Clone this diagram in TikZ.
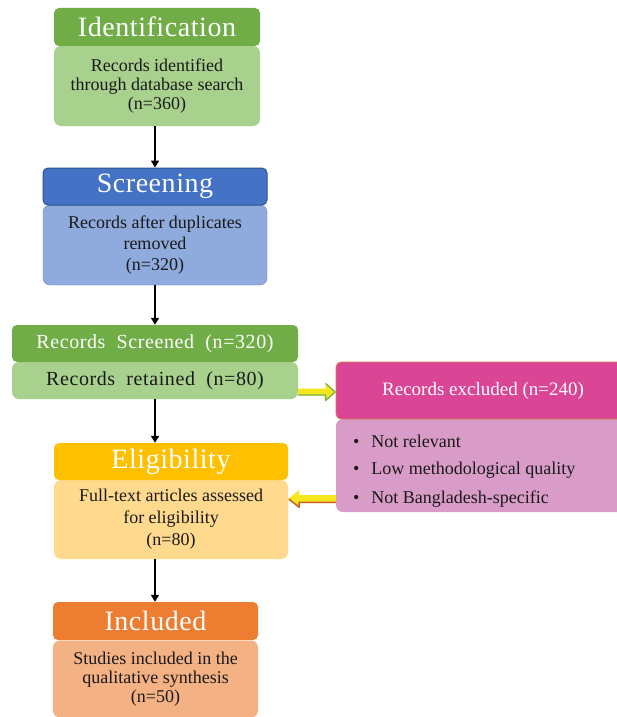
\documentclass[tikz,border=0pt]{standalone}
\usepackage{fontspec}
\setmainfont{Liberation Serif}
\newfontfamily\hdrfont[LetterSpace=2]{Liberation Serif}
\newfontfamily\wideserif[LetterSpace=3,WordSpace=2]{Liberation Serif}
\usetikzlibrary{calc,arrows.meta}
\definecolor{gH}{HTML}{70AD47}
\definecolor{gB}{HTML}{A9D18E}
\definecolor{bH}{HTML}{4472C4}
\definecolor{bD}{HTML}{2F528F}
\definecolor{bB}{HTML}{8FAADC}
\definecolor{yH}{HTML}{FFC000}
\definecolor{yB}{HTML}{FFD98E}
\definecolor{oH}{HTML}{ED7D31}
\definecolor{oB}{HTML}{F4B183}
\definecolor{pH}{HTML}{DB4595}
\definecolor{pB}{HTML}{D99CC9}
\definecolor{pD}{HTML}{D0804A}
\definecolor{txt}{HTML}{1A1A1A}
\definecolor{arY}{HTML}{F5E61E}
\definecolor{arG}{HTML}{7DB343}
\definecolor{arO}{HTML}{C8602A}
\tikzset{
  hdr/.style={rounded corners=5pt, inner sep=0pt, text=white, font=\hdrfont\fontsize{28}{30}\selectfont},
  hdrsmall/.style={rounded corners=5pt, inner sep=0pt, text=white, font=\wideserif\fontsize{20}{22}\selectfont},
  bodybox/.style={rounded corners=7pt, inner sep=0pt, align=center, text=txt, font=\fontsize{18}{20}\selectfont},
  arr/.style={draw=black, line width=1.6pt, -{Triangle[width=8pt,length=7pt]}},
}
\begin{document}
\begin{tikzpicture}[x=1pt,y=-1pt]
\useasboundingbox (0,0) rectangle (617,717);
\clip (0,0) rectangle (617,717);
\fill[white] (0,0) rectangle (617,717);
% Identification
\node[bodybox, fill=gB, minimum width=206pt, minimum height=80pt, font=\fontsize{18}{19}\selectfont] (idb) at (157,86) {Records identified\\through database search\\(n=360)};
\node[hdr, fill=gH, minimum width=206pt, minimum height=38pt] (idh) at (157,27) {Identification};
% Screening
\node[bodybox, fill=bB, draw=bB!80!black, line width=0.4pt, minimum width=224pt, minimum height=80pt, font=\fontsize{18}{21}\selectfont] (scb) at (155,245) {Records after duplicates\\removed\\(n=320)};
\node[hdr, fill=bH, draw=bD, line width=1pt, minimum width=224pt, minimum height=37pt] (sch) at (155,186.5) {Screening};
% Records screened
\node[bodybox, fill=gB, minimum width=286pt, minimum height=37pt, font=\wideserif\fontsize{20}{22}\selectfont] (rsb) at (155,380.5) {Records retained (n=80)};
\node[hdrsmall, fill=gH, minimum width=286pt, minimum height=37pt] (rsh) at (155,343.5) {Records Screened (n=320)};
% Eligibility
\node[bodybox, fill=yB, minimum width=234pt, minimum height=79pt, font=\fontsize{18}{22}\selectfont] (elb) at (171,519.5) {Full-text articles assessed\\for eligibility\\(n=80)};
\node[hdr, fill=yH, minimum width=234pt, minimum height=37pt] (elh) at (171,461.5) {Eligibility};
% Included
\node[bodybox, fill=oB, minimum width=205pt, minimum height=77pt, font=\fontsize{18}{19}\selectfont] (inb) at (155.5,679) {Studies included in the\\qualitative synthesis\\(n=50)};
\node[hdr, fill=oH, minimum width=205pt, minimum height=38pt] (inh) at (155.5,621) {Included};
% Excluded
\node[bodybox, fill=pB, minimum width=294pt, minimum height=93pt] (exb) at (483,465.5) {};
\node[hdrsmall, fill=pH, draw=pD, line width=0.8pt, minimum width=294pt, minimum height=57pt, font=\fontsize{19}{21}\selectfont] (exh) at (483,390.5) {Records excluded (n=240)};
\node[anchor=west, inner sep=0pt, text=txt, font=\fontsize{18}{20}\selectfont] (ex1) at (353,441) {\textbullet\hspace{12pt}Not relevant};
\node[anchor=west, inner sep=0pt, text=txt, font=\fontsize{18}{20}\selectfont] (ex2) at (353,470) {\textbullet\hspace{12pt}Low methodological quality};
\node[anchor=west, inner sep=0pt, text=txt, font=\fontsize{18}{20}\selectfont] (ex3) at (353,499) {\textbullet\hspace{12pt}Not Bangladesh-specific};
% vertical arrows
\coordinate (xa) at (155,0);
\draw[arr] (idb.south -| xa) -- (sch.north -| xa);
\draw[arr] (scb.south -| xa) -- (rsh.north -| xa);
\draw[arr] (rsb.south -| xa) -- (elh.north -| xa);
\draw[arr] (elb.south -| xa) -- (inh.north -| xa);
% side arrows
\coordinate (ra) at (rsb.east |- 0,392);
\coordinate (rb) at (exh.west |- 0,392);
\fill[arY]
  ($(ra)+(0,-3.5)$) -- ($(rb)+(-10,-3.5)$) -- ($(rb)+(-10,-9)$) -- (rb) -- ($(rb)+(-10,9)$) -- ($(rb)+(-10,3.5)$) -- ($(ra)+(0,3.5)$) -- cycle;
\draw[arG, line width=1.3pt, line join=round]
  ($(ra)+(0,3)$) -- ($(rb)+(-10,3)$) -- ($(rb)+(-10,8.5)$) -- ($(rb)+(-0.5,0)$) -- ($(rb)+(-10,-8.5)$);
\coordinate (la) at (exb.west |- 0,499);
\coordinate (lb) at (elb.east |- 0,499);
\fill[arY]
  ($(la)+(0,-4)$) -- ($(lb)+(11,-4)$) -- ($(lb)+(11,-9)$) -- (lb) -- ($(lb)+(11,9)$) -- ($(lb)+(11,4)$) -- ($(la)+(0,4)$) -- cycle;
\draw[arO, line width=1.5pt, line join=round]
  ($(la)+(0,3.3)$) -- ($(lb)+(11,3.3)$) -- ($(lb)+(11,8.3)$) -- ($(lb)+(0.6,0)$);
\end{tikzpicture}
\end{document}
